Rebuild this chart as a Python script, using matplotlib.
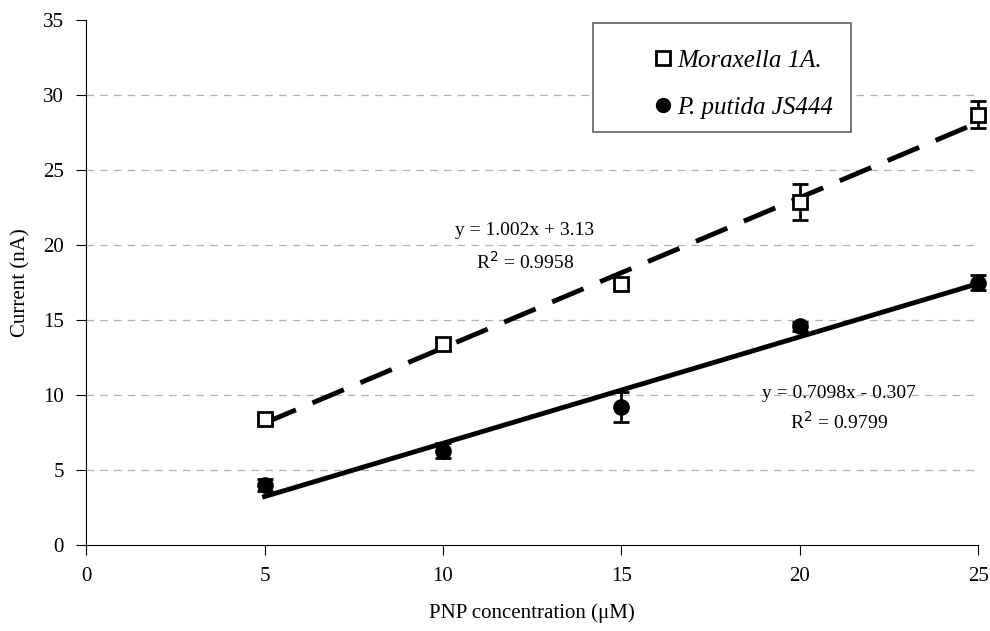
import numpy as np
import matplotlib.pyplot as plt
from matplotlib.patches import Rectangle

plt.rcParams['font.family'] = ['Liberation Serif', 'DejaVu Serif']

conc = [5, 10, 15, 20, 25]
moraxella = [8.4, 13.4, 17.4, 22.9, 28.7]
moraxella_err = [0.3, 0.4, 0.3, 1.2, 0.9]
putida = [4.0, 6.3, 9.2, 14.6, 17.5]
putida_err = [0.4, 0.5, 1.0, 0.3, 0.5]

fit_m = (1.002, 3.13)
fit_p = (0.7098, -0.307)

fig = plt.figure(figsize=(9.9, 6.31), dpi=100)
ax = fig.add_axes([0.087, 0.136, 0.901, 0.832])

xf = np.array([conc[0], conc[-1]])
ax.plot(xf, fit_m[0] * xf + fit_m[1], color='black', lw=3.5, ls=(0, (7, 3.7)), zorder=3)
ax.plot(xf, fit_p[0] * xf + fit_p[1], color='black', lw=3.5, zorder=3)

em = ax.errorbar(conc, moraxella, yerr=moraxella_err, fmt='s', ms=10, mfc='white',
                 mec='black', mew=2, ecolor='black', elinewidth=2, capsize=6, capthick=2,
                 label='Moraxella 1A.', zorder=4)
ep = ax.errorbar(conc, putida, yerr=putida_err, fmt='o', ms=11, mfc='black',
                 mec='black', ecolor='black', elinewidth=2, capsize=6, capthick=2,
                 label='P. putida JS444', zorder=4)
for cont in (em, ep):
    for art in cont.get_children():
        art.set_clip_on(False)

ax.set_xlim(0, 25)
ax.set_ylim(0, 35)
ax.set_xticks(range(0, 26, 5))
ax.set_yticks(range(0, 36, 5))
for y in range(5, 31, 5):
    ax.axhline(y, color='#b0b0b0', lw=0.9, ls=(0, (6, 5)), zorder=1)
ax.spines['top'].set_visible(False)
ax.spines['right'].set_visible(False)
ax.tick_params(direction='out', length=7, labelsize=15, pad=9)
ax.set_xlabel('PNP concentration (\u03bcM)', fontsize=15, labelpad=12)
ax.set_ylabel('Current (nA)', fontsize=15, labelpad=9)

ax.text(12.3, 21.0, 'y = 1.002x + 3.13', fontsize=14, ha='center', va='center')
ax.text(12.3, 18.9, 'R$^2$ = 0.9958', fontsize=14, ha='center', va='center')
ax.text(21.1, 10.1, 'y = 0.7098x - 0.307', fontsize=14, ha='center', va='center')
ax.text(21.1, 8.2, 'R$^2$ = 0.9799', fontsize=14, ha='center', va='center')

# legend frame drawn separately (wide left margin like the original)
ax.add_patch(Rectangle((0.568, 0.787), 0.289, 0.207, transform=ax.transAxes,
                       facecolor='white', edgecolor='#606060', lw=1.2,
                       clip_on=False, zorder=5))
handles, labels = ax.get_legend_handles_labels()
leg = ax.legend([h[0] for h in handles], labels, loc='upper left',
                bbox_to_anchor=(0.636, 0.945), prop={'style': 'italic', 'size': 18},
                frameon=False, borderpad=0, borderaxespad=0,
                handletextpad=0.15, handlelength=0.8, labelspacing=1.0)
leg.set_zorder(6)
for h in leg.legend_handles:
    h.set_markersize(10)

fig.savefig('out.png', dpi=100)
